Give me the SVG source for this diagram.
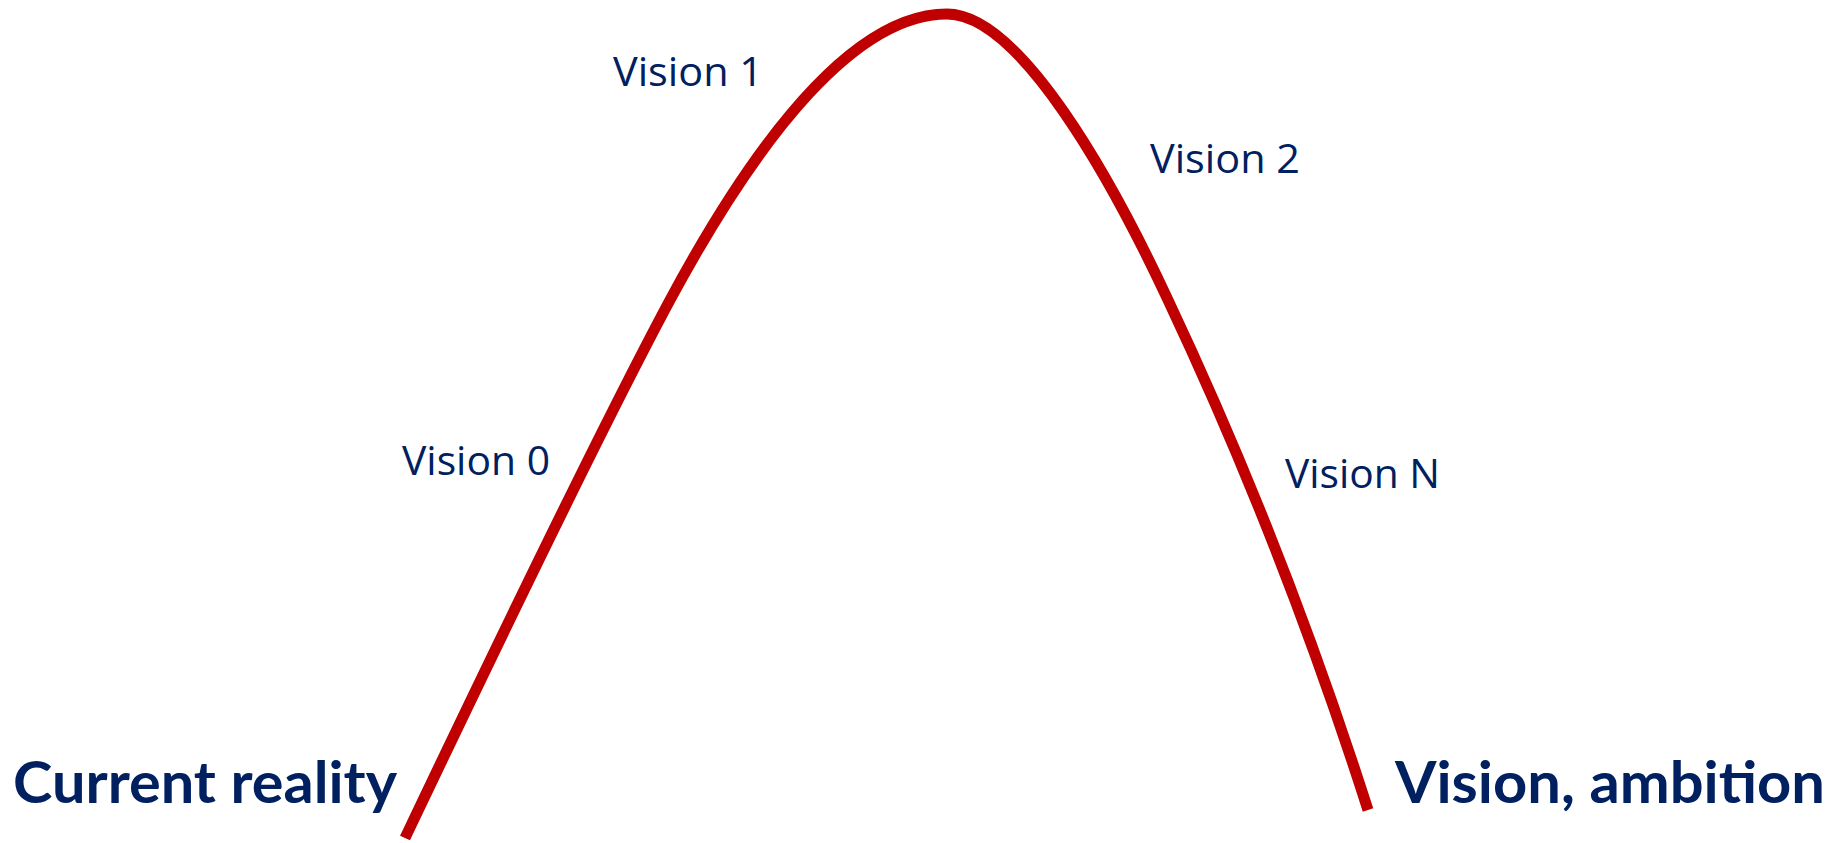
<svg xmlns="http://www.w3.org/2000/svg" width="1842" height="843" viewBox="0 0 1842 843">
  <style>
    .lbl { font-family: "Open Sans", "Noto Sans", "Liberation Sans", sans-serif; font-size: 40px; fill: #002060; }
    .big { font-family: Lato, "Open Sans", "Liberation Sans", sans-serif; font-size: 57px; font-weight: bold; fill: #002060; }
    .arc { fill: none; stroke: #C00000; stroke-width: 11; stroke-linecap: butt; stroke-linejoin: round; }
  </style>
  <rect width="1842" height="843" fill="#ffffff"/>
  <g id="connectors">
    <path class="arc" d="M405,838 C485,670 595,440 670,300 C761,131 857,14 947,14 C1020,14 1112,180 1168,300 C1253,480 1320,660 1368,810"/>
  </g>
  <g id="current-reality"><text class="big" x="13" y="803" textLength="384" lengthAdjust="spacingAndGlyphs">Current reality</text></g>
  <g id="vision-ambition"><text class="big" x="1395" y="803" textLength="430" lengthAdjust="spacingAndGlyphs">Vision, ambition</text></g>
  <g id="vision-0"><text class="lbl" x="402" y="475" textLength="148" lengthAdjust="spacingAndGlyphs">Vision 0</text></g>
  <g id="vision-1"><text class="lbl" x="613" y="86" textLength="150" lengthAdjust="spacingAndGlyphs">Vision 1</text></g>
  <g id="vision-2"><text class="lbl" x="1150" y="173" textLength="150" lengthAdjust="spacingAndGlyphs">Vision 2</text></g>
  <g id="vision-n"><text class="lbl" x="1285" y="488" textLength="155" lengthAdjust="spacingAndGlyphs">Vision N</text></g>
</svg>
